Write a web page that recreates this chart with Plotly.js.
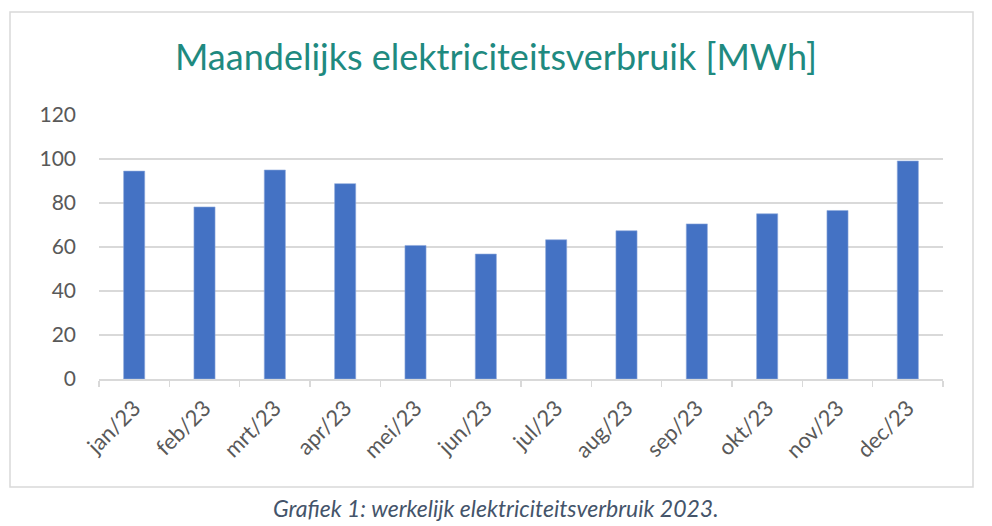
<!DOCTYPE html>
<html>
<head>
<meta charset="utf-8">
<script src="https://cdn.plot.ly/plotly-3.0.1.min.js"></script>
<style>html,body{margin:0;padding:0;background:#fff;}#chart{width:992px;height:526px;}</style>
</head>
<body>
<div id="chart"></div>
<script>
const months = ["jan/23","feb/23","mrt/23","apr/23","mei/23","jun/23","jul/23","aug/23","sep/23","okt/23","nov/23","dec/23"];
const consumptionMWh = [94.5, 78.2, 95.0, 88.8, 60.7, 56.8, 63.3, 67.4, 70.5, 75.1, 76.6, 99.1];
const yTicks = [0, 20, 40, 60, 80, 100, 120];
const titleText = "Maandelijks elektriciteitsverbruik [MWh]";
const captionText = "Grafiek 1: werkelijk elektriciteitsverbruik 2023.";

const font = "Lato, 'Open Sans', sans-serif";
const W = 992, H = 526, L = 99, R = 49, T = 115, B = 147;
const pw = W - L - R, ph = H - T - B;
const px = v => (v - L) / pw;
const py = v => (H - B - v) / ph;

const trace = {
  type: "bar",
  x: months,
  y: consumptionMWh,
  marker: {color: "#4472c4", line: {color: "#8faadc", width: 0.6}},
  hoverinfo: "x+y"
};

const layout = {
  width: W, height: H,
  margin: {l: L, r: R, t: T, b: B},
  paper_bgcolor: "#ffffff",
  plot_bgcolor: "#ffffff",
  showlegend: false,
  bargap: 0.7,
  title: {
    text: titleText,
    font: {family: font, size: 36, color: "#1f8a80"},
    x: 0.5, xanchor: "center",
    y: 1 - 57 / H, yanchor: "middle", yref: "container"
  },
  xaxis: {
    type: "category",
    tickangle: -45,
    tickfont: {family: font, size: 22, color: "#595959"},
    showline: true, linecolor: "#d9d9d9", linewidth: 1.5,
    ticks: "outside", tickson: "boundaries", ticklen: 6, tickcolor: "#d9d9d9", tickwidth: 1.5,
    ticklabelstandoff: 6,
    showgrid: false, zeroline: false,
    fixedrange: true
  },
  yaxis: {
    range: [0, 120],
    tickvals: yTicks,
    ticktext: yTicks.map(String),
    tickfont: {family: font, size: 21, color: "#595959"},
    showgrid: true, gridcolor: "#d9d9d9", gridwidth: 1.5,
    zeroline: false, showline: false, ticks: "",
    ticklabelstandoff: 22,
    fixedrange: true
  },
  shapes: [{
    type: "rect", xref: "paper", yref: "paper",
    x0: px(10), x1: px(973), y0: py(487), y1: py(12),
    line: {color: "#d9d9d9", width: 1.5}, fillcolor: "rgba(0,0,0,0)", layer: "below"
  }],
  annotations: [{
    text: "<i>" + captionText + "</i>",
    xref: "paper", yref: "paper",
    x: px(496), y: py(508), xanchor: "center", yanchor: "middle",
    showarrow: false,
    font: {family: font, size: 23, color: "#44546a"}
  }]
};

Plotly.newPlot("chart", [trace], layout, {displayModeBar: false, staticPlot: true});
</script>
</body>
</html>
